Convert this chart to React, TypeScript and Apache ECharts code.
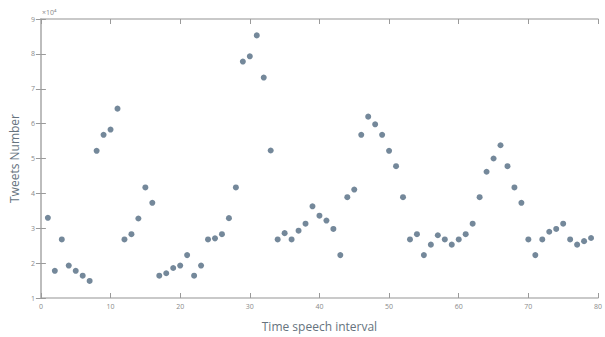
import React, { useEffect, useRef } from "react";
import * as echarts from "echarts";

// Time speech interval index
const intervals: number[] = [
  1, 2, 3, 4, 5, 6, 7, 8, 9, 10,
  11, 12, 13, 14, 15, 16, 17, 18, 19, 20,
  21, 22, 23, 24, 25, 26, 27, 28, 29, 30,
  31, 32, 33, 34, 35, 36, 37, 38, 39, 40,
  41, 42, 43, 44, 45, 46, 47, 48, 49, 50,
  51, 52, 53, 54, 55, 56, 57, 58, 59, 60,
  61, 62, 63, 64, 65, 66, 67, 68, 69, 70,
  71, 72, 73, 74, 75, 76, 77, 78, 79,
];

// Tweets number (in units of 10^4)
const tweets: number[] = [
  3.3, 1.78, 2.68, 1.93, 1.78, 1.64, 1.49, 5.22, 5.68, 5.83,
  6.43, 2.68, 2.83, 3.28, 4.17, 3.73, 1.64, 1.71, 1.86, 1.93,
  2.23, 1.64, 1.93, 2.68, 2.71, 2.83, 3.29, 4.17, 7.78, 7.93,
  8.53, 7.32, 5.23, 2.68, 2.86, 2.68, 2.93, 3.13, 3.63, 3.36,
  3.22, 2.98, 2.23, 3.89, 4.11, 5.68, 6.2, 5.98, 5.68, 5.22,
  4.78, 3.89, 2.68, 2.83, 2.23, 2.53, 2.8, 2.68, 2.53, 2.68,
  2.83, 3.13, 3.89, 4.62, 5.0, 5.38, 4.78, 4.17, 3.73, 2.68,
  2.23, 2.68, 2.9, 2.98, 3.13, 2.68, 2.53, 2.63, 2.72,
];

const xTicks = { min: 0, max: 80, interval: 10 };
const yTicks = { min: 1, max: 9, interval: 1 };

export default function App() {
  const ref = useRef<HTMLDivElement>(null);

  useEffect(() => {
    if (!ref.current) return;
    const chart = echarts.init(ref.current, undefined, { renderer: "svg" });
    const axisLine = { show: true, lineStyle: { color: "#b8b8b8", width: 1.5 } };
    const tickStyle = { inside: true, length: 5, lineStyle: { color: "#9a9a9a" } };
    const labelStyle = { color: "#8a8a8a", fontSize: 7, fontFamily: "Open Sans" };
    chart.setOption({
      animation: false,
      backgroundColor: "#ffffff",
      grid: { left: 40, right: 2, top: 19, bottom: 35, containLabel: false },
      xAxis: [
        {
          type: "value",
          ...xTicks,
          position: "bottom",
          name: "Time speech interval",
          nameLocation: "middle",
          nameGap: 22,
          nameTextStyle: { color: "#66737e", fontSize: 12, fontFamily: "Open Sans" },
          axisLine,
          axisTick: tickStyle,
          axisLabel: { ...labelStyle, margin: 5 },
          splitLine: { show: false },
        },
        {
          type: "value",
          ...xTicks,
          position: "top",
          axisLine,
          axisTick: tickStyle,
          axisLabel: { show: false },
          splitLine: { show: false },
        },
      ],
      yAxis: [
        {
          type: "value",
          ...yTicks,
          position: "left",
          name: "Tweets Number",
          nameLocation: "middle",
          nameGap: 20,
          nameTextStyle: { color: "#66737e", fontSize: 12, fontFamily: "Open Sans" },
          axisLine,
          axisTick: tickStyle,
          axisLabel: { ...labelStyle, margin: 6 },
          splitLine: { show: false },
        },
        {
          type: "value",
          ...yTicks,
          position: "right",
          axisLine,
          axisTick: tickStyle,
          axisLabel: { show: false },
          splitLine: { show: false },
        },
      ],
      graphic: [
        {
          type: "text",
          left: 42,
          top: 9,
          style: { text: "×10⁴", fill: "#8a8a8a", fontSize: 7, fontFamily: "Open Sans" },
        },
      ],
      series: [
        {
          type: "scatter",
          xAxisIndex: 0,
          yAxisIndex: 0,
          symbol: "circle",
          symbolSize: 6,
          itemStyle: { color: "#74889a", opacity: 1 },
          data: intervals.map((x, i) => [x, tweets[i]]),
        },
      ],
    });
    return () => chart.dispose();
  }, []);

  return (
    <div
      ref={ref}
      style={{ position: "fixed", left: 0, top: 0, width: 605, height: 337 }}
    />
  );
}
